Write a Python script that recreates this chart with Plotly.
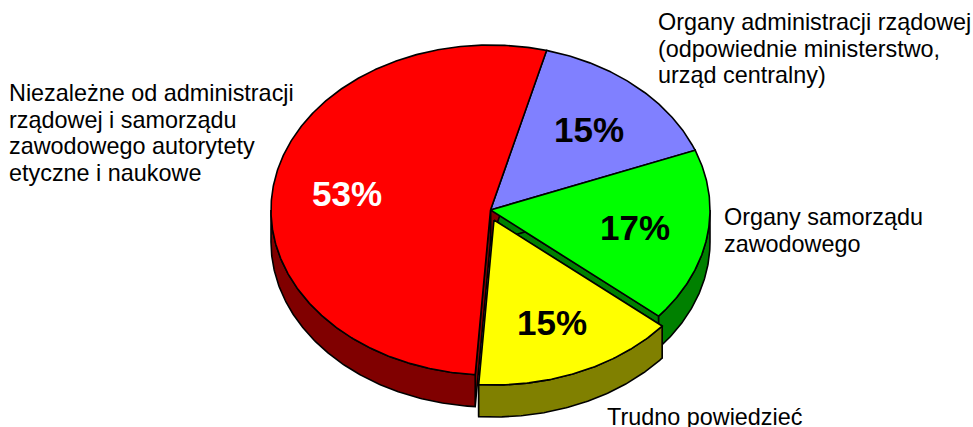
import numpy as np
import plotly.graph_objects as go

# Udzialy odpowiedzi, kolejnosc zgodnie z ruchem wskazowek od gory wykresu
labels = [
    ["Organy administracji rządowej", "(odpowiednie ministerstwo,", "urząd centralny)"],
    ["Organy samorządu", "zawodowego"],
    ["Trudno powiedzieć"],
    ["Niezależne od administracji", "rządowej i samorządu", "zawodowego autorytety", "etyczne i naukowe"],
]
values = [15, 17, 15, 53]
top_colors = ["#8080FF", "#00FF00", "#FFFF00", "#FF0000"]
side_colors = ["#404080", "#008000", "#808000", "#800000"]
pct_colors = ["black", "black", "black", "white"]

# Geometria rzutu 3D
CX, CY = 490.5, 210
RX, RY = 219.5, 165
DEPTH = 32
START = 14.8
PULL = {2: (3.5, 10)}
FONT = "Liberation Sans, Arial, sans-serif"
LINE_H = 26.7

label_pos = [(656, 22), (722, 217), (605, 417), (7, 93)]
pct_pos = [(589, 129), (635, 227), (552, 322), (347, 193)]


def arc(a0, a1, dx, dy, drop=0):
    t = np.radians(np.linspace(a0, a1, max(int(abs(a1 - a0)) * 2, 2)))
    return CX + dx + RX * np.sin(t), CY + dy + drop - RY * np.cos(t)


def poly(fig, x, y, color):
    fig.add_trace(go.Scatter(
        x=list(x) + [x[0]], y=list(y) + [y[0]], mode="lines", fill="toself",
        fillcolor=color, line=dict(color="black", width=1.6), hoverinfo="skip",
    ))


fig = go.Figure()

bounds = START + np.cumsum([0] + values) * 3.6
for i in range(len(values)):
    a0, a1 = bounds[i], bounds[i + 1]
    dx, dy = PULL.get(i, (0, 0))
    # sciany boczne: promienie
    for a in (a1, a0):
        ex, ey = arc(a, a, dx, dy)
        cx, cy = CX + dx, CY + dy
        poly(fig, [cx, ex[0], ex[0], cx], [cy, ey[0], ey[0] + DEPTH, cy + DEPTH], side_colors[i])
    # sciana boczna: luk, tylko dolna polowa elipsy
    w0, w1 = max(a0, 90), min(a1, 270)
    if w1 > w0:
        ux, uy = arc(w0, w1, dx, dy)
        lx, ly = arc(w0, w1, dx, dy, DEPTH)
        poly(fig, np.r_[ux, lx[::-1]], np.r_[uy, ly[::-1]], side_colors[i])

for i in range(len(values)):
    dx, dy = PULL.get(i, (0, 0))
    ax, ay = arc(bounds[i], bounds[i + 1], dx, dy)
    poly(fig, np.r_[CX + dx, ax], np.r_[CY + dy, ay], top_colors[i])

for lab, (x, y) in zip(labels, label_pos):
    for n, line in enumerate(lab):
        fig.add_annotation(x=x, y=y + n * LINE_H, text=line, showarrow=False, xanchor="left",
                           yanchor="middle", font=dict(family=FONT, size=23.4, color="black"))

for v, (x, y), c in zip(values, pct_pos, pct_colors):
    fig.add_annotation(x=x, y=y, text=f"<b>{v}%</b>", showarrow=False,
                       font=dict(family=FONT, size=35, color=c))

fig.update_layout(
    width=973, height=427, margin=dict(l=0, r=0, t=0, b=0),
    paper_bgcolor="white", plot_bgcolor="white", showlegend=False,
    xaxis=dict(range=[0, 973], visible=False, fixedrange=True),
    yaxis=dict(range=[427, 0], visible=False, fixedrange=True),
)

fig.write_html("out.html", config={"displayModeBar": False},
               post_script="document.body.style.margin='0';")
